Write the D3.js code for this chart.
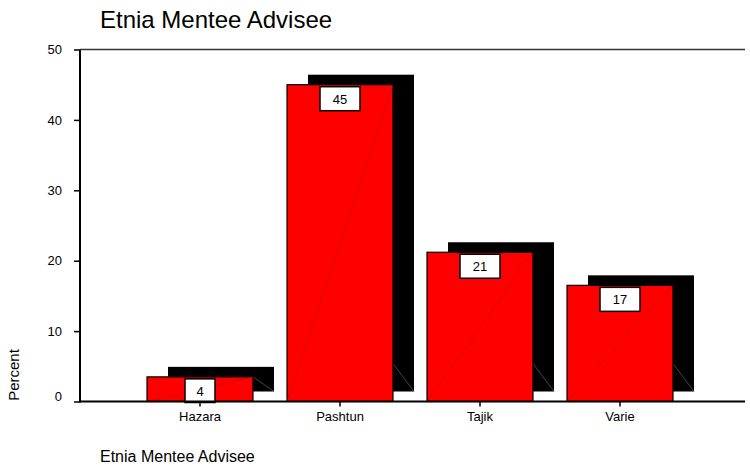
<!DOCTYPE html>
<html>
<head>
<meta charset="utf-8">
<script src="https://cdn.jsdelivr.net/npm/d3@7"></script>
<style>
  body { margin: 0; background: #fff; }
  svg { font-family: "Liberation Sans", Arial, sans-serif; display: block; }
</style>
</head>
<body>
<svg id="chart"></svg>
<script>
const categories = ["Hazara", "Pashtun", "Tajik", "Varie"];
const percents = [3.5, 45.0, 21.2, 16.5];
const yTicks = [0, 10, 20, 30, 40, 50];

const width = 750, height = 471;
const plotLeft = 80, plotRight = 745, plotTop = 49.5, plotBottom = 401.5;
const shadowDx = 21, shadowDy = -10;

const svg = d3.select('#chart')
  .attr('width', width)
  .attr('height', height)
  .style('background', '#fff');

const x = d3.scaleBand()
  .domain(categories)
  .range([130, 690])
  .paddingInner(0.243)
  .paddingOuter(0.1215);
const y = d3.scaleLinear()
  .domain([0, 50])
  .range([plotBottom, plotTop]);

const data = categories.map((c, i) => ({ cat: c, v: percents[i] }));

// shadows
const shadows = svg.append('g');
shadows.selectAll('rect')
  .data(data)
  .join('rect')
    .attr('x', d => x(d.cat) + shadowDx)
    .attr('y', d => y(d.v) + shadowDy)
    .attr('width', x.bandwidth())
    .attr('height', d => y(0) - y(d.v))
    .attr('fill', '#000');
// grey depth edge at the shadow's lower right corner
shadows.selectAll('line')
  .data(data)
  .join('line')
    .attr('x1', d => x(d.cat) + x.bandwidth())
    .attr('y1', d => Math.max(y(d.v), y(0) + shadowDy - 28))
    .attr('x2', d => x(d.cat) + x.bandwidth() + shadowDx)
    .attr('y2', y(0) + shadowDy)
    .attr('stroke', '#666')
    .attr('stroke-width', 0.7);

// bars
const bars = svg.append('g');
bars.selectAll('rect')
  .data(data)
  .join('rect')
    .attr('x', d => x(d.cat))
    .attr('y', d => y(d.v))
    .attr('width', x.bandwidth())
    .attr('height', d => y(0) - y(d.v))
    .attr('fill', '#ff0000')
    .attr('stroke', '#000')
    .attr('stroke-width', 1.2);
// faint diagonal seam inside bars
bars.selectAll('line')
  .data(data)
  .join('line')
    .attr('x1', d => x(d.cat))
    .attr('y1', y(0))
    .attr('x2', d => x(d.cat) + x.bandwidth())
    .attr('y2', d => y(d.v))
    .attr('stroke', '#c80000')
    .attr('stroke-width', 0.6);

// value boxes
const boxes = svg.append('g').selectAll('g')
  .data(data)
  .join('g');
const boxW = d => 20 + 10 * String(Math.round(d.v)).length;
boxes.append('rect')
  .attr('x', d => x(d.cat) + x.bandwidth() / 2 - boxW(d) / 2)
  .attr('y', d => y(d.v) + 2)
  .attr('width', boxW)
  .attr('height', d => Math.min(24, y(0) - y(d.v) - 1))
  .attr('fill', '#fff')
  .attr('stroke', '#000')
  .attr('stroke-width', 1.5);
boxes.append('text')
  .attr('x', d => x(d.cat) + x.bandwidth() / 2)
  .attr('y', d => y(d.v) + 19)
  .attr('text-anchor', 'middle')
  .attr('font-size', 13)
  .attr('fill', '#000')
  .text(d => Math.round(d.v));

// axes
const yAxis = d3.axisLeft(y).tickValues(yTicks).tickSize(6).tickSizeOuter(0).tickPadding(12);
const gy = svg.append('g')
  .attr('transform', `translate(${plotLeft},0)`)
  .call(yAxis);
gy.select('.domain').remove();
gy.selectAll('.tick line').attr('stroke', '#000').attr('stroke-width', 1.5);
gy.selectAll('.tick text').attr('font-size', 13).attr('fill', '#000')
  .attr('font-family', '"Liberation Sans", Arial, sans-serif')
  .attr('y', d => d === 0 ? -5 : 0);

const xAxis = d3.axisBottom(x).tickSize(5).tickSizeOuter(0).tickPadding(5);
const gx = svg.append('g')
  .attr('transform', `translate(0,${plotBottom})`)
  .call(xAxis);
gx.select('.domain').remove();
gx.selectAll('.tick line').attr('stroke', '#000').attr('stroke-width', 1.5);
gx.selectAll('.tick text').attr('font-size', 13).attr('fill', '#000')
  .attr('font-family', '"Liberation Sans", Arial, sans-serif');

// frame lines
svg.append('line')
  .attr('x1', plotLeft).attr('x2', plotLeft)
  .attr('y1', plotTop).attr('y2', plotBottom + 1)
  .attr('stroke', '#000').attr('stroke-width', 2);
svg.append('line')
  .attr('x1', plotLeft).attr('x2', plotRight)
  .attr('y1', plotBottom).attr('y2', plotBottom)
  .attr('stroke', '#000').attr('stroke-width', 2);
svg.append('line')
  .attr('x1', plotLeft).attr('x2', plotRight)
  .attr('y1', plotTop).attr('y2', plotTop)
  .attr('stroke', '#333').attr('stroke-width', 1.3);

// titles
svg.append('text')
  .attr('x', 100).attr('y', 28)
  .attr('font-size', 24)
  .attr('fill', '#000')
  .text('Etnia Mentee Advisee');
svg.append('text')
  .attr('x', 100).attr('y', 462)
  .attr('font-size', 16)
  .attr('fill', '#000')
  .text('Etnia Mentee Advisee');
svg.append('text')
  .attr('transform', `translate(19,375) rotate(-90)`)
  .attr('text-anchor', 'middle')
  .attr('font-size', 15)
  .attr('fill', '#000')
  .text('Percent');
</script>
</body>
</html>
